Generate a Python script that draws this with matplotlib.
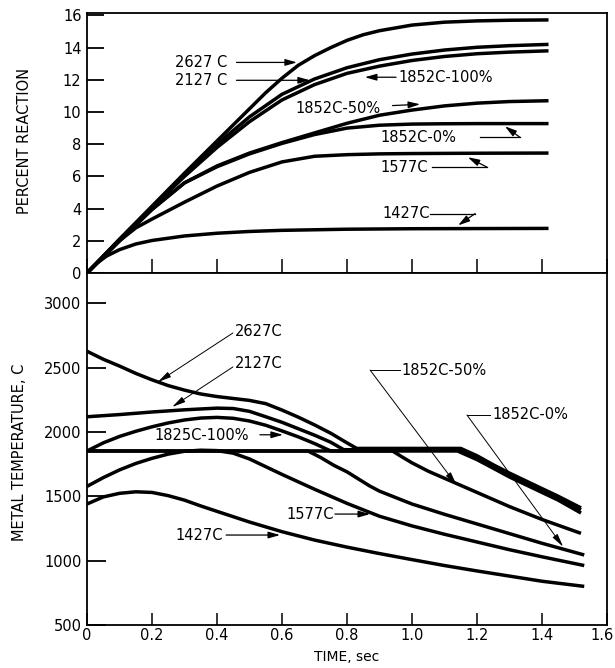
import matplotlib
matplotlib.use("Agg")
import matplotlib.pyplot as plt
from matplotlib.transforms import ScaledTranslation

# ---------------- data: percent reaction vs time ----------------
rx_2627_t = [0, 0.1, 0.2, 0.3, 0.4, 0.5, 0.55, 0.6, 0.65, 0.7, 0.75, 0.8, 0.85, 0.9, 1.0, 1.1, 1.2, 1.3, 1.42]
rx_2627_v = [0, 2.1, 4.15, 6.2, 8.2, 10.2, 11.2, 12.1, 12.9, 13.5, 14.0, 14.45, 14.8, 15.05, 15.4, 15.58, 15.66, 15.7, 15.72]

rx_t = [0, 0.1, 0.2, 0.3, 0.4, 0.5, 0.6, 0.7, 0.8, 0.9, 1.0, 1.1, 1.2, 1.3, 1.42]
rx_2127_v = [0, 2.08, 4.1, 6.1, 8.0, 9.7, 11.1, 12.05, 12.75, 13.25, 13.6, 13.85, 14.02, 14.12, 14.2]
rx_1852_100_v = [0, 2.05, 4.05, 6.0, 7.8, 9.4, 10.75, 11.7, 12.4, 12.85, 13.2, 13.45, 13.62, 13.72, 13.8]
rx_1852_50_v = [0, 2.0, 3.95, 5.6, 6.65, 7.45, 8.1, 8.7, 9.3, 9.8, 10.12, 10.38, 10.55, 10.65, 10.7]
rx_1852_0_v = [0, 2.0, 3.95, 5.6, 6.6, 7.4, 8.05, 8.6, 9.0, 9.18, 9.25, 9.27, 9.28, 9.28, 9.28]

rx_1577_t = [0, 0.1, 0.15, 0.2, 0.3, 0.4, 0.5, 0.6, 0.7, 0.8, 0.9, 1.0, 1.2, 1.42]
rx_1577_v = [0, 2.0, 2.8, 3.35, 4.4, 5.4, 6.25, 6.9, 7.25, 7.35, 7.4, 7.42, 7.44, 7.45]

rx_1427_t = [0, 0.03, 0.06, 0.1, 0.15, 0.2, 0.3, 0.4, 0.5, 0.6, 0.8, 1.0, 1.2, 1.42]
rx_1427_v = [0, 0.6, 1.05, 1.45, 1.8, 2.02, 2.3, 2.47, 2.58, 2.65, 2.72, 2.75, 2.76, 2.77]

# ---------------- data: metal temperature vs time ----------------
tm_2627_t = [0, 0.05, 0.1, 0.15, 0.2, 0.25, 0.3, 0.35, 0.4, 0.45, 0.5, 0.55, 0.6, 0.65, 0.7, 0.75, 0.8, 0.83,
             1.15, 1.2, 1.25, 1.3, 1.35, 1.4, 1.45, 1.52]
tm_2627_v = [2627, 2565, 2512, 2455, 2405, 2360, 2325, 2295, 2275, 2260, 2245, 2220, 2170, 2115, 2055, 1990, 1915, 1872,
             1872, 1815, 1745, 1680, 1620, 1560, 1500, 1410]

tm_2127_t = [0, 0.1, 0.2, 0.3, 0.4, 0.45, 0.5, 0.55, 0.6, 0.65, 0.7, 0.75, 0.79,
             1.15, 1.2, 1.25, 1.3, 1.35, 1.4, 1.45, 1.52]
tm_2127_v = [2118, 2135, 2155, 2172, 2185, 2182, 2160, 2118, 2075, 2025, 1975, 1920, 1862,
             1862, 1800, 1732, 1665, 1605, 1545, 1487, 1395]

tm_1852_100_t = [0, 0.05, 0.1, 0.15, 0.2, 0.25, 0.3, 0.35, 0.4, 0.45, 0.5, 0.55, 0.6, 0.65, 0.7, 0.75,
                 1.14, 1.2, 1.25, 1.3, 1.35, 1.4, 1.45, 1.52]
tm_1852_100_v = [1852, 1915, 1965, 2005, 2040, 2070, 2093, 2108, 2113, 2106, 2085, 2052, 2008, 1962, 1910, 1852,
                 1852, 1785, 1718, 1650, 1590, 1530, 1470, 1370]

tm_1852_50_t = [0, 0.94, 0.97, 1.0, 1.05, 1.1, 1.15, 1.2, 1.3, 1.4, 1.52]
tm_1852_50_v = [1852, 1852, 1805, 1760, 1695, 1640, 1585, 1530, 1420, 1320, 1212]

tm_1852_0_t = [0, 0.68, 0.72, 0.76, 0.8, 0.87, 0.9, 1.0, 1.1, 1.2, 1.3, 1.4, 1.53]
tm_1852_0_v = [1852, 1852, 1800, 1740, 1690, 1580, 1540, 1440, 1360, 1285, 1210, 1135, 1044]

tm_1577_t = [0, 0.05, 0.1, 0.15, 0.2, 0.25, 0.3, 0.35, 0.4, 0.45, 0.5, 0.55, 0.6, 0.7, 0.8, 0.9, 1.0, 1.1, 1.2,
             1.3, 1.4, 1.53]
tm_1577_v = [1577, 1645, 1705, 1755, 1795, 1828, 1850, 1858, 1855, 1835, 1790, 1730, 1670, 1555, 1445, 1345, 1270,
             1205, 1145, 1085, 1030, 962]

tm_1427_t = [0, 0.05, 0.1, 0.15, 0.2, 0.25, 0.3, 0.35, 0.4, 0.5, 0.6, 0.7, 0.8, 0.9, 1.0, 1.1, 1.2, 1.3, 1.4, 1.53]
tm_1427_v = [1440, 1495, 1523, 1535, 1530, 1505, 1470, 1425, 1383, 1300, 1225, 1160, 1105, 1055, 1008, 962, 920,
             880, 840, 800]

x_ticks = [0, 0.2, 0.4, 0.6, 0.8, 1.0, 1.2, 1.4, 1.6]
x_tick_labels = ["0", "0.2", "0.4", "0.6", "0.8", "1.0", "1.2", "1.4", "1.6"]
top_y_ticks = [0, 2, 4, 6, 8, 10, 12, 14, 16]
bot_y_ticks = [500, 1000, 1500, 2000, 2500, 3000]

# ---------------- figure ----------------
W, H = 615, 668
FS = 10.5
plt.rcParams["font.family"] = ["DejaVu Sans"]
fig = plt.figure(figsize=(W / 100, H / 100), dpi=100)

left, right = 87 / W, 607 / W
ax1 = fig.add_axes([left, 1 - 273 / H, right - left, (273 - 13) / H])
ax2 = fig.add_axes([left, 1 - 625 / H, right - left, (625 - 273) / H])

LW = 2.5
line_kw = dict(color="black", lw=LW, solid_capstyle="butt", solid_joinstyle="round")

# top panel curves
ax1.plot(rx_2627_t, rx_2627_v, **line_kw)
ax1.plot(rx_t, rx_2127_v, **line_kw)
ax1.plot(rx_t, rx_1852_100_v, **line_kw)
ax1.plot(rx_t, rx_1852_50_v, **line_kw)
ax1.plot(rx_t, rx_1852_0_v, **line_kw)
ax1.plot(rx_1577_t, rx_1577_v, **line_kw)
ax1.plot(rx_1427_t, rx_1427_v, **line_kw)

# bottom panel curves
ax2.plot(tm_2627_t, tm_2627_v, **line_kw)
ax2.plot(tm_2127_t, tm_2127_v, **line_kw)
ax2.plot(tm_1852_100_t, tm_1852_100_v, **line_kw)
ax2.plot(tm_1852_50_t, tm_1852_50_v, **line_kw)
ax2.plot(tm_1852_0_t, tm_1852_0_v, **line_kw)
ax2.plot(tm_1577_t, tm_1577_v, **line_kw)
ax2.plot(tm_1427_t, tm_1427_v, **line_kw)

# axes styling
for ax in (ax1, ax2):
    ax.set_xlim(0, 1.6)
    for sp in ax.spines.values():
        sp.set_linewidth(1.3)
    ax.set_xticks(x_ticks)
ax1.set_ylim(0, 16.15)
ax2.set_ylim(500, 3235)

ax1.set_yticks(top_y_ticks)
ax1.set_yticklabels([str(v) for v in top_y_ticks])
ax1.set_xticklabels([])
ax1.tick_params(axis="y", direction="in", length=12, width=1.3, labelsize=FS, pad=4)
ax1.tick_params(axis="x", direction="in", length=10, width=1.1, labelbottom=False)

ax2.set_yticks(bot_y_ticks)
ax2.set_yticklabels([str(v) for v in bot_y_ticks])
ax2.set_xticklabels(x_tick_labels)
ax2.tick_params(axis="y", direction="in", length=13.5, width=1.3, labelsize=FS, pad=4)
ax2.tick_params(axis="x", direction="in", length=8.5, width=1.1, labelsize=FS, pad=2.5)

# keep the last time label inside the figure edge
last = ax2.get_xticklabels()[-1]
last.set_horizontalalignment("right")
last.set_transform(last.get_transform() + ScaledTranslation(7 / 100, 0, fig.dpi_scale_trans))

fig.text(25 / W, 1 - 141 / H, "PERCENT REACTION", rotation=90, ha="center", va="center", fontsize=FS)
fig.text(20 / W, 1 - 452 / H, "METAL TEMPERATURE, C", rotation=90, ha="center", va="center", fontsize=FS)
fig.text(347 / W, 1 - 657 / H, "TIME, sec", ha="center", va="center", fontsize=10)

arrow_kw = dict(arrowstyle="-|>,head_length=0.7,head_width=0.2", color="black", lw=0.9,
                shrinkA=0, shrinkB=0)
thin_arrow_kw = dict(arrowstyle="-|>,head_length=0.8,head_width=0.18", color="black", lw=0.7,
                     shrinkA=0, shrinkB=0)


def label(ax, text, x, y):
    ax.text(x, y, text, ha="left", va="center", fontsize=FS)


def arrow(ax, tail, tip, kw=arrow_kw):
    ax.annotate("", xy=tip, xytext=tail, arrowprops=kw)


def bent_arrow(ax, pts, kw=arrow_kw):
    xs = [p[0] for p in pts[:-1]]
    ys = [p[1] for p in pts[:-1]]
    ax.plot(xs, ys, color="black", lw=kw["lw"])
    arrow(ax, pts[-2], pts[-1], kw)


# top panel labels
label(ax1, "2627 C", 0.271, 13.08)
arrow(ax1, (0.46, 13.08), (0.646, 13.08))
label(ax1, "2127 C", 0.271, 11.97)
arrow(ax1, (0.46, 11.97), (0.686, 11.97))
label(ax1, "1852C-100%", 0.957, 12.16)
arrow(ax1, (0.951, 12.16), (0.855, 12.16))
label(ax1, "1852C-50%", 0.64, 10.23)
arrow(ax1, (0.94, 10.4), (1.025, 10.48))
label(ax1, "1852C-0%", 0.902, 8.43)
bent_arrow(ax1, [(1.209, 8.43), (1.332, 8.43), (1.286, 9.11)])
label(ax1, "1577C", 0.902, 6.57)
bent_arrow(ax1, [(1.062, 6.57), (1.231, 6.57), (1.172, 7.19)])
label(ax1, "1427C", 0.908, 3.69)
bent_arrow(ax1, [(1.055, 3.69), (1.194, 3.69), (1.142, 2.96)])

# bottom panel labels
label(ax2, "2627C", 0.455, 2777)
arrow(ax2, (0.449, 2769), (0.218, 2388), thin_arrow_kw)
label(ax2, "2127C", 0.455, 2528)
arrow(ax2, (0.449, 2505), (0.262, 2194), thin_arrow_kw)
label(ax2, "1825C-100%", 0.209, 1975)
arrow(ax2, (0.532, 1978), (0.603, 1978))
label(ax2, "1577C", 0.615, 1362)
arrow(ax2, (0.763, 1362), (0.871, 1362))
label(ax2, "1427C", 0.271, 1199)
arrow(ax2, (0.428, 1199), (0.594, 1199))
label(ax2, "1852C-50%", 0.969, 2481)
bent_arrow(ax2, [(0.963, 2481), (0.871, 2481), (1.137, 1588)], thin_arrow_kw)
label(ax2, "1852C-0%", 1.246, 2132)
bent_arrow(ax2, [(1.24, 2132), (1.169, 2132), (1.465, 1108)], thin_arrow_kw)

fig.savefig("out.png", dpi=100)
